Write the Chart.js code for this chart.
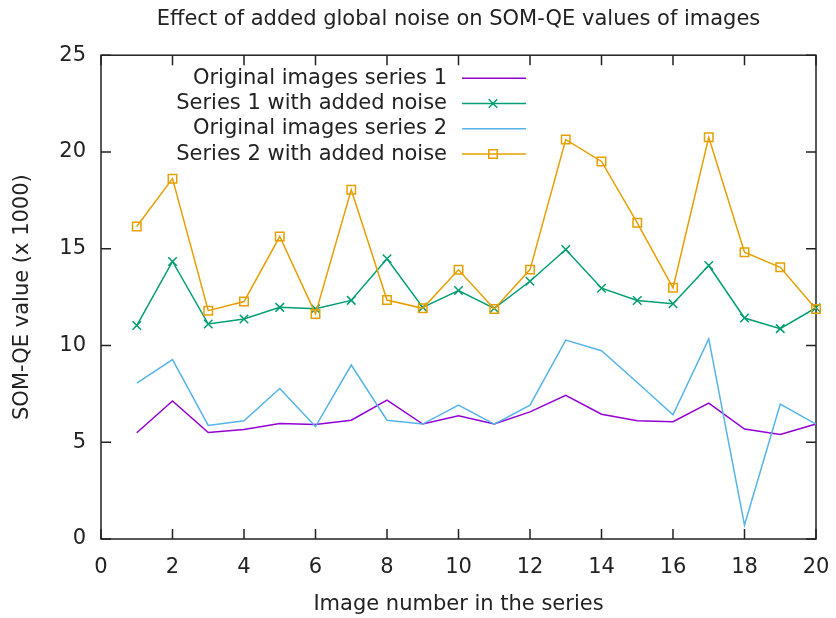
<!DOCTYPE html>
<html>
<head>
<meta charset="utf-8">
<title>Effect of added global noise on SOM-QE values</title>
<script src="https://cdn.jsdelivr.net/npm/chart.js@4.4.1/dist/chart.umd.min.js"></script>
<style>
    html, body { margin: 0; padding: 0; background: #ffffff; }
    canvas { display: block; }
</style>
</head>
<body>
<canvas id="chart" width="836" height="618"></canvas>
<script>
// Values (SOM-QE x 1000)
const imageNumbers = [1, 2, 3, 4, 5, 6, 7, 8, 9, 10, 11, 12, 13, 14, 15, 16, 17, 18, 19, 20];
const originalSeries1 = [5.49, 7.13, 5.50, 5.66, 5.97, 5.92, 6.14, 7.18, 5.94, 6.37, 5.94, 6.57, 7.42, 6.45, 6.11, 6.06, 7.02, 5.68, 5.40, 5.94];
const noisySeries1 = [11.03, 14.34, 11.11, 11.37, 11.97, 11.90, 12.33, 14.48, 11.97, 12.84, 11.92, 13.32, 14.96, 12.96, 12.32, 12.16, 14.13, 11.42, 10.87, 11.95];
const originalSeries2 = [8.06, 9.27, 5.87, 6.11, 7.78, 5.81, 8.99, 6.14, 5.94, 6.92, 5.94, 6.92, 10.28, 9.73, 8.09, 6.42, 10.34, 0.72, 6.97, 5.94];
const noisySeries2 = [16.15, 18.62, 11.80, 12.27, 15.63, 11.63, 18.05, 12.35, 11.92, 13.91, 11.89, 13.92, 20.64, 19.51, 16.34, 12.98, 20.76, 14.82, 14.04, 11.89];

const xTickValues = [0, 2, 4, 6, 8, 10, 12, 14, 16, 18, 20];
const yTickValues = [0, 5, 10, 15, 20, 25];

const seriesLabels = [
    'Original images series 1',
    'Series 1 with added noise',
    'Original images series 2',
    'Series 2 with added noise'
];

const textColor = '#222222';
const axisColor = '#222222';
const tickLen = 10;

const toPoints = (values) => values.map((v, i) => ({ x: imageNumbers[i], y: v }));

// gnuplot style border with inward, mirrored ticks
const frameAndTicks = {
    id: 'frameAndTicks',
    beforeDatasetsDraw(chart) {
        const { ctx, chartArea: a, scales: { x, y } } = chart;
        ctx.save();
        ctx.strokeStyle = axisColor;
        ctx.lineWidth = 1.5;
        ctx.strokeRect(a.left, a.top, a.right - a.left, a.bottom - a.top);
        ctx.beginPath();
        xTickValues.forEach((v) => {
            const px = x.getPixelForValue(v);
            ctx.moveTo(px, a.bottom);
            ctx.lineTo(px, a.bottom - tickLen);
            ctx.moveTo(px, a.top);
            ctx.lineTo(px, a.top + tickLen);
        });
        yTickValues.forEach((v) => {
            const py = y.getPixelForValue(v);
            ctx.moveTo(a.left, py);
            ctx.lineTo(a.left + tickLen, py);
            ctx.moveTo(a.right, py);
            ctx.lineTo(a.right - tickLen, py);
        });
        ctx.stroke();
        ctx.restore();
    }
};

// Key inside the plot: right aligned text, sample line on the right
const keyBox = {
    id: 'keyBox',
    afterDatasetsDraw(chart) {
        const { ctx, chartArea: a } = chart;
        ctx.save();
        ctx.font = '21px "DejaVu Sans", sans-serif';
        ctx.textAlign = 'right';
        ctx.textBaseline = 'middle';
        chart.data.datasets.forEach((ds, i) => {
            const rowY = a.top + 23 + i * 25.3;
            ctx.fillStyle = textColor;
            ctx.fillText(ds.label, a.left + 346, rowY);

            ctx.strokeStyle = ds.borderColor;
            ctx.lineWidth = ds.borderWidth;
            ctx.beginPath();
            ctx.moveTo(a.left + 361, rowY);
            ctx.lineTo(a.left + 425, rowY);
            ctx.stroke();

            if (ds.pointRadius > 0) {
                ctx.fillStyle = 'rgba(0,0,0,0)';
                Chart.helpers.drawPoint(ctx, {
                    pointStyle: ds.pointStyle,
                    radius: ds.pointRadius,
                    borderWidth: ds.pointBorderWidth,
                    rotation: 0
                }, a.left + 392, rowY);
            }
        });
        ctx.restore();
    }
};

Chart.defaults.font.family = '"DejaVu Sans", sans-serif';
Chart.defaults.font.size = 21;
Chart.defaults.color = textColor;

new Chart(document.getElementById('chart'), {
    type: 'line',
    data: {
        datasets: [
            {
                label: seriesLabels[0],
                data: toPoints(originalSeries1),
                borderColor: '#9400d3',
                borderWidth: 1.5,
                pointRadius: 0,
                order: 4
            },
            {
                label: seriesLabels[1],
                data: toPoints(noisySeries1),
                borderColor: '#009e73',
                borderWidth: 1.5,
                pointStyle: 'crossRot',
                pointRadius: 6,
                pointBorderWidth: 1.5,
                pointBorderColor: '#009e73',
                order: 3
            },
            {
                label: seriesLabels[2],
                data: toPoints(originalSeries2),
                borderColor: '#56b4e9',
                borderWidth: 1.5,
                pointRadius: 0,
                order: 2
            },
            {
                label: seriesLabels[3],
                data: toPoints(noisySeries2),
                borderColor: '#e69f00',
                borderWidth: 1.5,
                pointStyle: 'rect',
                pointRadius: 6,
                pointBorderWidth: 1.5,
                pointBorderColor: '#e69f00',
                pointBackgroundColor: 'rgba(0,0,0,0)',
                order: 1
            }
        ]
    },
    options: {
        responsive: false,
        animation: false,
        devicePixelRatio: 1,
        datasets: {
            line: { tension: 0, fill: false, clip: false }
        },
        layout: {
            padding: { left: 0, right: 20, top: 0, bottom: 0 }
        },
        plugins: {
            legend: { display: false },
            tooltip: { enabled: false },
            title: {
                display: true,
                fullSize: false,
                text: 'Effect of added global noise on SOM-QE values of images',
                color: textColor,
                font: { size: 21, weight: 'normal' },
                padding: { top: 7, bottom: 23 }
            }
        },
        scales: {
            x: {
                type: 'linear',
                min: 0,
                max: 20,
                afterBuildTicks: (scale) => {
                    scale.ticks = xTickValues.map((v) => ({ value: v }));
                },
                afterFit: (scale) => {
                    scale.height = 79;
                    scale.paddingLeft = 0;
                    scale.paddingRight = 0;
                },
                grid: { display: false, drawTicks: false },
                border: { display: false },
                ticks: { padding: 16, maxRotation: 0, autoSkip: false, color: textColor },
                title: {
                    display: true,
                    text: 'Image number in the series',
                    color: textColor,
                    padding: { top: 1, bottom: 1 }
                }
            },
            y: {
                min: 0,
                max: 25,
                afterBuildTicks: (scale) => {
                    scale.ticks = yTickValues.map((v) => ({ value: v }));
                },
                afterFit: (scale) => {
                    scale.width = 101;
                },
                grid: { display: false, drawTicks: false },
                border: { display: false },
                ticks: { padding: 15, autoSkip: false, color: textColor },
                title: {
                    display: true,
                    text: 'SOM-QE value (x 1000)',
                    color: textColor,
                    padding: { top: 10, bottom: 10 }
                }
            }
        }
    },
    plugins: [frameAndTicks, keyBox]
});
</script>
</body>
</html>
